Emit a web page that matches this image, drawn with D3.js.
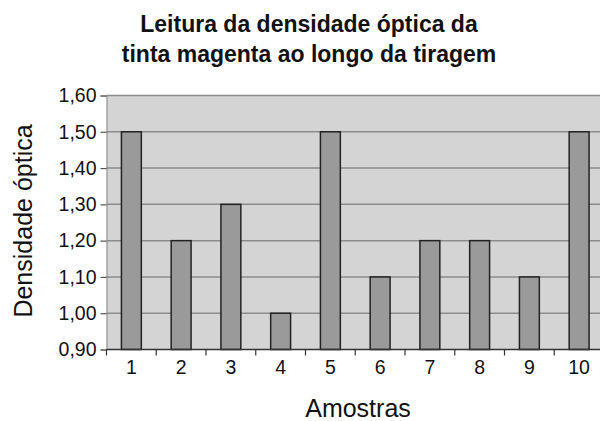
<!DOCTYPE html>
<html>
<head>
<meta charset="utf-8">
<script src="https://cdn.jsdelivr.net/npm/d3@7"></script>
<style>
  body { margin: 0; background: #fff; overflow: hidden; }
  text { font-family: "Liberation Sans", Arial, sans-serif; fill: #111; }
</style>
</head>
<body>
<div id="chart"></div>
<script>
// data
const samples = ["1", "2", "3", "4", "5", "6", "7", "8", "9", "10"];
const density = [1.5, 1.2, 1.3, 1.0, 1.5, 1.1, 1.2, 1.2, 1.1, 1.5];
const yTicks = [0.9, 1.0, 1.1, 1.2, 1.3, 1.4, 1.5, 1.6];
const titleLines = ["Leitura da densidade óptica da", "tinta magenta ao longo da tiragem"];

const W = 600, H = 421;
const plotL = 106.5, plotR = 604, plotT = 95.5, plotB = 349.5;

const svg = d3.select("#chart").append("svg")
    .attr("width", W).attr("height", H);

const x = d3.scaleBand().domain(samples).range([plotL, plotR]).padding(0);
const y = d3.scaleLinear().domain([0.9, 1.6]).range([plotB, plotT]);

// plot background
svg.append("rect")
    .attr("x", plotL).attr("y", plotT)
    .attr("width", plotR - plotL).attr("height", plotB - plotT)
    .attr("fill", "#d4d4d4");

// gridlines
svg.append("g").selectAll("line")
    .data(yTicks.filter(d => d > 0.9))
    .join("line")
    .attr("x1", plotL).attr("x2", plotR)
    .attr("y1", d => y(d)).attr("y2", d => y(d))
    .attr("stroke", "#8c8c8c").attr("stroke-width", 1.5);

// bars
const barW = x.bandwidth() * 0.4;
svg.append("g").selectAll("rect")
    .data(density)
    .join("rect")
    .attr("x", (d, i) => x(samples[i]) + (x.bandwidth() - barW) / 2)
    .attr("y", d => y(d))
    .attr("width", barW)
    .attr("height", d => y(0.9) - y(d))
    .attr("fill", "#9a9a9a")
    .attr("stroke", "#222").attr("stroke-width", 1.5);

// y axis
const yAxis = svg.append("g")
    .attr("transform", `translate(${plotL},0)`)
    .call(d3.axisLeft(y).tickValues(yTicks).tickSize(6).tickPadding(4)
        .tickFormat(d => d3.format(".2f")(d).replace(".", ",")));
yAxis.select(".domain").attr("stroke", "#888").attr("stroke-width", 1);
yAxis.selectAll(".tick line").attr("stroke", "#555").attr("stroke-width", 1.2);
yAxis.selectAll("text").style("font-size", "19.5px").attr("fill", "#111");

// x axis: ticks on band boundaries
svg.append("line")
    .attr("x1", plotL).attr("x2", plotR)
    .attr("y1", plotB).attr("y2", plotB)
    .attr("stroke", "#333").attr("stroke-width", 1.5);
svg.append("g").selectAll("line")
    .data(samples)
    .join("line")
    .attr("x1", d => x(d)).attr("x2", d => x(d))
    .attr("y1", plotB).attr("y2", plotB + 6)
    .attr("stroke", "#333").attr("stroke-width", 1.2);
svg.append("g").selectAll("text")
    .data(samples)
    .join("text")
    .attr("x", d => x(d) + x.bandwidth() / 2)
    .attr("y", 374)
    .attr("text-anchor", "middle")
    .style("font-size", "19.5px")
    .text(d => d);

// axis titles
svg.append("text")
    .attr("x", 358).attr("y", 417)
    .attr("text-anchor", "middle")
    .style("font-size", "25px")
    .text("Amostras");
svg.append("text")
    .attr("transform", "translate(32,221) rotate(-90)")
    .attr("text-anchor", "middle")
    .style("font-size", "25px")
    .text("Densidade óptica");

// title
svg.append("g").selectAll("text")
    .data(titleLines)
    .join("text")
    .attr("x", 309)
    .attr("y", (d, i) => 31.5 + i * 30)
    .attr("text-anchor", "middle")
    .style("font-size", "23px")
    .style("font-weight", "bold")
    .text(d => d);
</script>
</body>
</html>
